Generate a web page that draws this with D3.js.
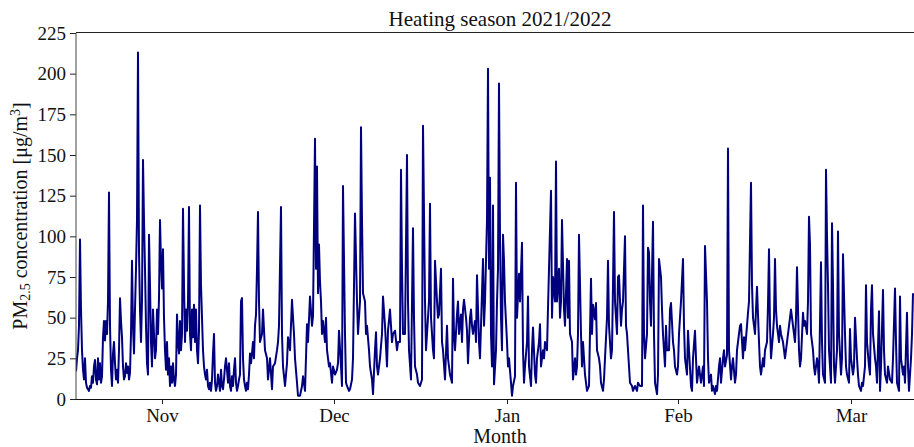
<!DOCTYPE html>
<html>
<head>
<meta charset="utf-8">
<script src="https://cdn.jsdelivr.net/npm/d3@7/dist/d3.min.js"></script>
<style>
  html, body { margin: 0; padding: 0; background: #fff; }
  svg { display: block; font-family: "Liberation Serif", "Times New Roman", serif; }
</style>
</head>
<body>
<div id="chart"></div>
<script>
// PM2.5 readings, [step, value]; one step ~ 4 h, split by month
const octPM = [[0,17],[1,25],[2,30],[3,45],[4,98],[5,55],[6,30],[7,18],[8,12],[9,25],[10,10],[11,7],[12,6],[13,5],[14,8],[15,7],[16,14],[17,10],[18,20],[19,24],[20,12],[21,9],[22,25],[23,12],[24,22],[25,10],[26,14],[27,38],[28,48],[29,36],[30,48],[31,40],[32,60],[33,127],[34,45],[35,18],[36,8],[37,28],[38,35],[39,22],[40,12],[41,18],[42,10],[43,30],[44,62],[45,48],[46,38],[47,20],[48,12],[49,14],[50,22],[51,16],[52,20],[53,12],[54,16],[55,40],[56,85],[57,45],[58,28],[59,55],[60,80],[61,110],[62,213],[63,90],[64,55],[65,35],[66,60],[67,147],[68,110],[69,80],[70,45],[71,22],[72,15],[73,101],[74,70],[75,35],[76,20],[77,55],[78,40],[79,25],[80,30],[81,55],[82,40],[83,62],[84,110],[85,85]];

const novPM = [[86,68],[87,92],[88,50],[89,30],[90,18],[91,35],[92,15],[93,25],[94,8],[95,20],[96,10],[97,22],[98,12],[99,8],[100,15],[101,52],[102,35],[103,28],[104,48],[105,30],[106,40],[107,117],[108,70],[109,35],[110,55],[111,42],[112,60],[113,118],[114,40],[115,30],[116,55],[117,38],[118,58],[119,35],[120,55],[121,30],[122,22],[123,42],[124,119],[125,70],[126,50],[127,30],[128,20],[129,15],[130,12],[131,18],[132,8],[133,6],[134,10],[135,5],[136,12],[137,28],[138,40],[139,10],[140,5],[141,8],[142,15],[143,10],[144,5],[145,18],[146,8],[147,6],[148,12],[149,20],[150,25],[151,18],[152,10],[153,22],[154,8],[155,5],[156,14],[157,8],[158,18],[159,25],[160,10],[161,5],[162,8],[163,12],[164,15],[165,60],[166,62],[167,25],[168,12],[169,8],[170,5],[171,10],[172,6],[173,15],[174,28],[175,22],[176,28],[177,35],[178,25],[179,45],[180,52],[181,80],[182,115],[183,60],[184,35],[186,40],[187,55],[189,30],[191,25],[192,12],[194,25],[196,6],[197,20],[199,22],[201,30],[202,35],[203,45],[205,118],[206,40],[207,20],[209,8],[211,22],[212,38],[214,30],[216,61],[217,50],[218,40],[219,25],[221,10],[222,2],[224,2],[226,8],[227,14],[229,5],[231,46],[232,35],[234,63],[236,45],[237,51],[239,160],[240,80],[241,143],[242,65],[243,95],[244,72],[245,60],[246,40],[247,48],[249,35],[250,50],[251,30],[253,20],[254,22],[256,10],[257,20]];

const decPM = [[259,15],[261,18],[262,22],[263,42],[265,20],[266,8],[267,131],[269,40],[270,10],[271,8],[273,5],[274,6],[276,12],[277,25],[279,114],[281,60],[282,40],[284,60],[285,167],[286,110],[287,65],[289,60],[290,40],[291,45],[293,30],[294,20],[296,12],[297,3],[299,30],[300,41],[301,20],[302,15],[304,25],[306,40],[307,63],[309,45],[311,20],[312,42],[314,55],[316,35],[317,40],[319,42],[321,30],[322,35],[324,35],[325,141],[326,80],[327,40],[329,40],[331,150],[332,60],[333,30],[335,12],[337,105],[338,50],[339,20],[341,15],[342,10],[344,8],[346,12],[347,168],[349,60],[350,30],[351,40],[353,60],[354,120],[355,50],[357,30],[358,25],[359,85],[361,60],[362,50],[363,52],[365,80],[366,35],[367,30],[369,12],[371,45],[372,25],[374,15],[376,10],[377,74],[378,40],[379,30],[381,52],[382,60],[383,40],[385,52],[386,35],[387,55],[388,61],[390,50],[391,42],[392,22],[394,50],[395,55],[396,45],[397,40],[399,48],[400,35],[401,76],[403,35],[404,25],[405,45],[407,86],[408,45],[409,60],[411,110],[412,203],[413,80],[414,136],[415,40],[416,20],[417,119],[418,9],[420,30],[421,60],[422,80],[423,194],[424,100],[425,50],[426,30],[427,101],[428,85],[429,60]];

const janPM = [[431,35],[432,20],[433,25],[435,10],[436,2],[437,8],[439,14],[440,133],[441,50],[443,77],[444,60],[446,96],[447,30],[448,10],[449,20],[451,35],[452,63],[453,20],[455,8],[456,30],[457,44],[459,15],[460,10],[461,25],[463,35],[464,46],[465,20],[467,30],[468,25],[469,35],[471,30],[472,56],[473,80],[475,128],[476,50],[477,75],[479,60],[480,146],[481,60],[483,80],[484,50],[485,60],[486,110],[488,55],[489,45],[491,86],[492,50],[493,85],[494,40],[496,35],[497,12],[499,25],[500,15],[501,20],[502,40],[503,101],[505,40],[506,20],[507,35],[509,15],[510,10],[511,5],[513,8],[515,74],[516,40],[517,58],[519,49],[520,59],[521,30],[523,25],[524,20],[525,10],[527,5],[528,12],[529,25],[531,50],[532,85],[533,45],[535,25],[536,30],[537,70],[538,115],[539,60],[541,40],[542,75],[543,76],[545,45],[546,55],[547,60],[549,100],[550,45],[551,40],[553,20],[554,10],[556,8],[557,5],[559,8],[561,5],[562,10],[564,8],[566,8],[567,119],[568,40],[569,25],[571,40],[572,93],[573,90],[574,60],[575,45],[577,109],[578,40],[579,10],[581,3],[582,15],[583,86],[585,75],[586,55],[587,40],[589,20],[590,45],[591,30],[593,30],[594,55],[595,59],[597,35],[598,30],[599,20],[601,15]];

const febPM = [[602,20],[603,40],[605,60],[607,86],[608,45],[609,25],[611,15],[612,42],[613,30],[615,8],[616,5],[617,25],[619,42],[620,25],[621,10],[623,20],[624,15],[625,10],[627,20],[628,8],[629,94],[631,60],[632,25],[633,10],[635,15],[636,5],[637,8],[639,3],[640,8],[641,5],[643,20],[644,25],[645,10],[647,25],[648,30],[649,20],[651,27],[652,154],[653,30],[655,12],[656,20],[657,25],[659,10],[660,15],[661,30],[663,40],[664,45],[665,46],[667,25],[668,38],[669,30],[671,45],[672,53],[673,60],[675,133],[676,70],[677,50],[679,40],[680,55],[681,69],[683,35],[684,20],[685,15],[687,25],[688,20],[689,30],[691,35],[692,58],[693,92],[694,45],[695,25],[697,40],[698,50],[699,86],[700,55],[701,45],[703,35],[704,45],[705,40],[707,35],[708,30],[709,25],[711,35],[712,40],[713,45],[715,55],[716,50],[717,45],[719,35],[720,50],[721,81],[723,30],[724,20],[725,25],[727,53],[728,45],[729,48],[731,40],[732,60],[733,112],[734,95],[735,40],[737,30],[738,20],[739,15],[741,25],[742,20],[743,10],[745,84],[746,35],[747,15],[749,10],[750,141],[751,100],[752,70],[753,30],[755,10],[756,108],[757,70],[758,20],[759,10],[761,30],[762,103],[763,40],[765,15],[766,25],[767,89],[769,40],[770,20],[771,15],[773,10],[774,43]];

const marPM = [[775,25],[777,15],[778,20],[779,50],[781,25],[782,15],[783,8],[785,5],[786,10],[787,8],[789,20],[790,70],[791,35],[793,20],[794,15],[795,55],[796,70],[797,40],[799,25],[800,20],[801,10],[803,54],[804,5],[805,20],[807,67],[808,30],[809,15],[811,10],[812,20],[814,12],[816,10],[817,25],[819,68],[820,35],[821,10],[823,5],[824,63],[825,25],[827,15],[828,20],[829,10],[831,53],[832,20],[833,5],[835,25],[836,40],[837,65]];

const monthLabels = ["Nov", "Dec", "Jan", "Feb", "Mar"];
const monthTickSteps = [86, 258, 431, 602, 775];
const yTicks = [0, 25, 50, 75, 100, 125, 150, 175, 200, 225];

const series = [].concat(octPM, novPM, decPM, janPM, febPM, marPM);

const width = 914, height = 447;
const margin = { top: 33, right: -10, bottom: 48, left: 76 };
const plotW = width - margin.left - margin.right;
const plotH = height - margin.top - margin.bottom;

const svg = d3.select("#chart").append("svg")
    .attr("width", width)
    .attr("height", height);

const x = d3.scaleLinear().domain([0, 848]).range([0, plotW]);
const y = d3.scaleLinear().domain([0, 225]).range([plotH, 0]);

const g = svg.append("g").attr("transform", `translate(${margin.left},${margin.top})`);

// line (clipped to plot area)
g.append("clipPath").attr("id", "clip")
  .append("rect").attr("x", 0).attr("y", -2).attr("width", plotW).attr("height", plotH + 2);

const line = d3.line().x(d => x(d[0])).y(d => y(d[1]));
g.append("path")
    .datum(series)
    .attr("clip-path", "url(#clip)")
    .attr("fill", "none")
    .attr("stroke", "#00007f")
    .attr("stroke-width", 2)
    .attr("stroke-linejoin", "round")
    .attr("d", line);

// axes
const yAxis = g.append("g")
    .call(d3.axisLeft(y).tickValues(yTicks).tickSize(6).tickPadding(4));
const xAxis = g.append("g")
    .attr("transform", `translate(0,${plotH})`)
    .call(d3.axisBottom(x).tickValues(monthTickSteps)
        .tickFormat((d, i) => monthLabels[i]).tickSize(5).tickPadding(5));

[yAxis, xAxis].forEach(a => {
  a.select(".domain").remove();
  a.selectAll("text").style("font-family", "Liberation Serif, serif")
    .style("font-size", "19px").attr("fill", "#111");
  a.selectAll("line").attr("stroke", "#222");
});

// spines: top, left, bottom
g.append("line").attr("x1", 0).attr("x2", plotW).attr("y1", -0.5).attr("y2", -0.5)
  .attr("stroke", "#222");
g.append("line").attr("x1", 0).attr("x2", 0).attr("y1", 0).attr("y2", plotH)
  .attr("stroke", "#444");
g.append("line").attr("x1", 0).attr("x2", plotW).attr("y1", plotH + 0.5).attr("y2", plotH + 0.5)
  .attr("stroke", "#111");

// title & labels
svg.append("text")
    .attr("x", margin.left + plotW / 2).attr("y", 26)
    .attr("text-anchor", "middle")
    .style("font-size", "21px").attr("fill", "#111")
    .text("Heating season 2021/2022");

svg.append("text")
    .attr("x", margin.left + plotW / 2).attr("y", 443)
    .attr("text-anchor", "middle")
    .style("font-size", "20px").attr("fill", "#111")
    .text("Month");

const yl = svg.append("text")
    .attr("transform", `translate(27,${margin.top + plotH / 2}) rotate(-90)`)
    .attr("text-anchor", "middle")
    .style("font-size", "20px").attr("fill", "#111");
yl.append("tspan").text("PM");
yl.append("tspan").attr("dy", 3).style("font-size", "14px").text("2.5");
yl.append("tspan").attr("dy", -3).text(" concentration [μg/m");
yl.append("tspan").attr("dy", -7).style("font-size", "14px").text("3");
yl.append("tspan").attr("dy", 7).text("]");
</script>
</body>
</html>
